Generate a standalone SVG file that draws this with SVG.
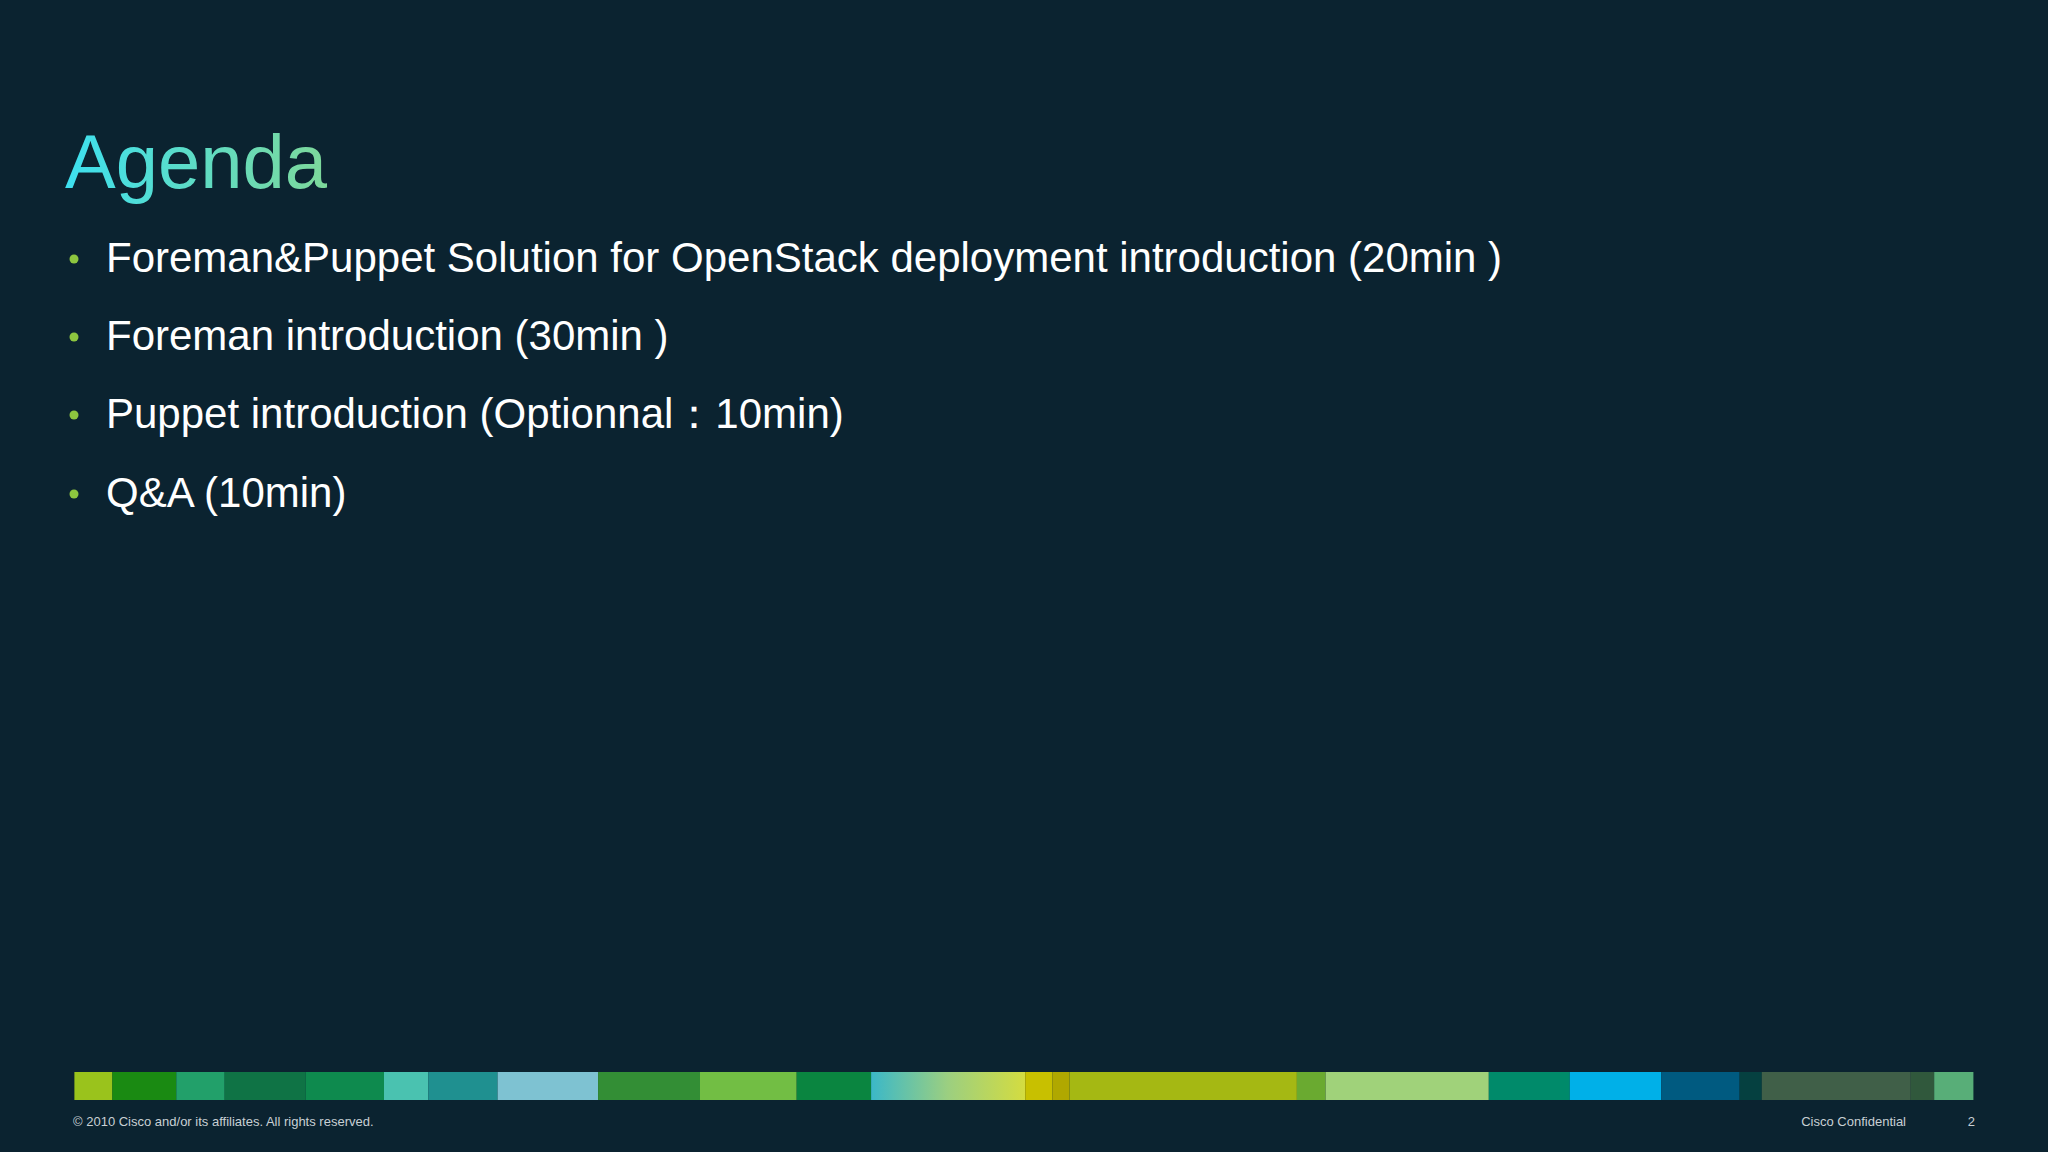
<svg xmlns="http://www.w3.org/2000/svg" width="2048" height="1152" viewBox="0 0 2048 1152">
<defs>
<linearGradient id="tg" x1="0" y1="0" x2="1" y2="0"><stop offset="0" stop-color="#3de0f0"/><stop offset="1" stop-color="#7ed89a"/></linearGradient>
<linearGradient id="bg1" x1="0" y1="0" x2="1" y2="0"><stop offset="0" stop-color="#3bb8c8"/><stop offset="0.5" stop-color="#9ccf80"/><stop offset="1" stop-color="#d4dc40"/></linearGradient>
<style>
.b{font-family:"Liberation Sans",Arial,sans-serif;font-size:42px;fill:#ffffff}
.d{fill:#8dc63f}
.f{font-family:"Liberation Sans",Arial,sans-serif;font-size:13px;fill:#c8d0d4}
</style>
</defs>
<rect width="2048" height="1152" fill="#0b2330"/>
<g id="title"><text x="65" y="188" font-family="Liberation Sans, Arial, sans-serif" font-size="76" fill="url(#tg)">Agenda</text></g>
<g id="bullets">
<circle class="d" cx="74" cy="259" r="4.5"/><text class="b" x="106" y="272">Foreman&amp;Puppet Solution for OpenStack deployment introduction (20min )</text>
<circle class="d" cx="74" cy="337" r="4.5"/><text class="b" x="106" y="350">Foreman introduction (30min )</text>
<circle class="d" cx="74" cy="415" r="4.5"/><text class="b" x="106" y="428">Puppet introduction (Optionnal：10min)</text>
<circle class="d" cx="74" cy="494" r="4.5"/><text class="b" x="106" y="507">Q&amp;A (10min)</text>
</g>
<g id="bar">
<rect x="74.4" y="1072" width="38" height="28" fill="#9ac31c"/>
<rect x="112.3" y="1072" width="64" height="28" fill="#1a8a12"/>
<rect x="176.3" y="1072" width="48.4" height="28" fill="#22a06a"/>
<rect x="224.6" y="1072" width="81" height="28" fill="#0f7345"/>
<rect x="305.6" y="1072" width="78.4" height="28" fill="#0e8a4e"/>
<rect x="384" y="1072" width="44.4" height="28" fill="#4ac2b0"/>
<rect x="428.4" y="1072" width="69.2" height="28" fill="#1f9090"/>
<rect x="497.6" y="1072" width="100.5" height="28" fill="#7ec2d2"/>
<rect x="598.1" y="1072" width="101.9" height="28" fill="#338e35"/>
<rect x="700" y="1072" width="96.7" height="28" fill="#72be44"/>
<rect x="796.7" y="1072" width="74.4" height="28" fill="#0a8540"/>
<rect x="871.1" y="1072" width="154.1" height="28" fill="url(#bg1)"/>
<rect x="1025.2" y="1072" width="27.4" height="28" fill="#c8c000"/>
<rect x="1052.6" y="1072" width="17" height="28" fill="#b0a800"/>
<rect x="1069.6" y="1072" width="227.3" height="28" fill="#a5b813"/>
<rect x="1296.9" y="1072" width="28.7" height="28" fill="#6aaa30"/>
<rect x="1325.6" y="1072" width="163.2" height="28" fill="#a0d27a"/>
<rect x="1488.8" y="1072" width="81" height="28" fill="#008a6a"/>
<rect x="1569.8" y="1072" width="91.4" height="28" fill="#00b0e8"/>
<rect x="1661.2" y="1072" width="78.4" height="28" fill="#005a80"/>
<rect x="1739.6" y="1072" width="22.2" height="28" fill="#054040"/>
<rect x="1761.8" y="1072" width="148.9" height="28" fill="#405f48"/>
<rect x="1910.7" y="1072" width="23.5" height="28" fill="#30583c"/>
<rect x="1934.2" y="1072" width="39.2" height="28" fill="#58ae78"/>
</g>
<g id="footer">
<text class="f" x="73" y="1126">© 2010 Cisco and/or its affiliates. All rights reserved.</text>
<text class="f" x="1906" y="1126" text-anchor="end">Cisco Confidential</text>
<text class="f" x="1975" y="1126" text-anchor="end">2</text>
</g>
</svg>
